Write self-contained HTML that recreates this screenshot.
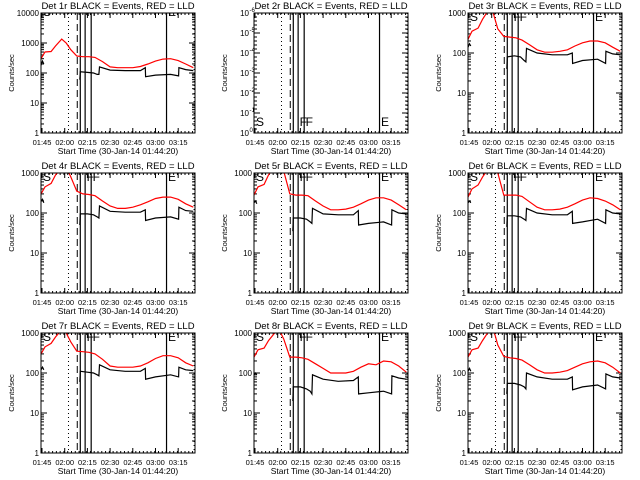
<!DOCTYPE html>
<html><head><meta charset="utf-8"><style>
html,body{margin:0;padding:0;background:#fff;width:640px;height:480px;overflow:hidden}
svg{display:block}
text{font-family:"Liberation Sans",sans-serif;fill:#000}
</style></head><body>
<svg id="chart" width="640" height="480" viewBox="0 0 640 480" xmlns="http://www.w3.org/2000/svg"></svg>
<script>
// time knots in minutes after 01:45
const redTimes = [-0.7,2,6,9,13,16,19,23,27,31,35,40,45,50,55,60,65,70,75,80,85,90,95,100];
const blackTimes = [-0.7,0.3,1.2,2,25,25.3,30,34,36.5,37.6,38,45,55,65,68.3,68.5,75,85,90.3,90.5,95,100];
const red1 = [300,500,520,800,1350,1000,600,370,350,350,330,240,160,150,150,150,165,200,250,290,300,260,200,150];
const black1 = [180,250,200,null,60,110,105,100,90,90,160,125,120,120,150,75,85,90,80,150,130,120];
const red3 = [220,350,420,700,1200,1000,400,260,250,240,210,160,120,105,105,110,120,150,180,200,200,180,140,110];
const black3 = [140,170,150,null,40,80,85,80,65,60,130,100,90,90,100,55,65,70,55,110,95,90];
const red4 = [300,450,550,900,1300,1400,800,350,300,290,270,200,150,130,130,140,160,190,230,250,250,220,170,140];
const black4 = [200,220,180,null,50,95,95,90,80,75,150,110,105,105,120,65,75,80,70,140,115,110];
const red5 = [280,450,520,900,1400,1500,1100,300,280,280,270,200,150,120,120,125,140,170,210,240,240,210,160,120];
const black5 = [180,200,170,null,35,75,75,70,60,55,130,95,90,90,115,50,55,60,50,120,100,95];
const red6 = [250,400,500,800,1300,1400,1000,280,280,280,260,190,140,120,120,125,140,170,210,240,230,200,160,120];
const black6 = [180,200,180,null,45,85,85,80,70,65,130,100,90,90,110,55,60,70,55,120,100,95];
const red7 = [300,450,550,800,1200,1000,600,350,340,330,300,220,150,140,140,140,150,180,230,270,270,240,180,150];
const black7 = [120,140,120,null,60,110,105,100,90,85,160,120,110,110,130,70,80,90,80,140,120,115];
const red8 = [250,380,420,650,1000,1200,700,250,250,240,220,170,130,100,100,100,110,140,170,160,200,190,150,105];
const black8 = [90,100,90,null,20,45,45,40,35,30,90,70,62,65,80,30,32,35,30,85,75,70];
const red9 = [250,380,420,650,1100,1300,500,260,240,230,210,160,120,100,100,105,115,140,170,190,200,180,140,100];
const black9 = [110,130,110,null,30,55,55,50,45,40,100,80,70,70,80,38,45,50,40,95,80,75];
const xTickLabels = ["01:45","02:00","02:15","02:30","02:45","03:00","03:15"];
const xTickMinutes = [0,15,30,45,60,75,90];
const dottedTimes = [17.5,100.5];
const dashedTimes = [23.3];
const solidTimes = [25.3,28.5,32.5,82.3];
const letterTimes = [0,28.8,32.8,82.6];
const letterLabels = ["S","F","F","E"];

const panels = [
 {n:1,red:red1,black:black1,dec:4},
 {n:2,red:null,black:null,dec:6},
 {n:3,red:red3,black:black3,dec:3},
 {n:4,red:red4,black:black4,dec:3},
 {n:5,red:red5,black:black5,dec:3},
 {n:6,red:red6,black:black6,dec:3},
 {n:7,red:red7,black:black7,dec:3},
 {n:8,red:red8,black:black8,dec:3},
 {n:9,red:red9,black:black9,dec:3}
];
const NS="http://www.w3.org/2000/svg";
const svg=document.getElementById('chart');
function mk(tag,attrs,parent){const e=document.createElementNS(NS,tag);for(const k in attrs)e.setAttribute(k,attrs[k]);parent.appendChild(e);return e;}
const L=41,R=195,T=13,B=133;
function xs(m){return L+(m+0.667)*1.513;}

panels.forEach((p,i)=>{
 const ox=[0,213,427][i%3], oy=[0,160,320][Math.floor(i/3)];
 const g=mk('g',{transform:`translate(${ox},${oy})`},svg);
 
 
 const ys = v => B-(Math.log10(v))*(B-T)/p.dec;
 const ysExp = e => B-(e)*(B-T)/6;
 const cid='clip'+p.n;
 const cp=mk('clipPath',{id:cid},g); mk('rect',{x:L,y:T,width:R-L,height:B-T},cp);
 const title=mk('text',{x:118,y:9,'text-anchor':'middle','font-size':'9.5'},g);
 title.textContent=`Det ${p.n}r BLACK = Events, RED = LLD`;
 
 
 const xt=mk('text',{x:118,y:154,'text-anchor':'middle','font-size':'8.5'},g);
 xt.textContent='Start Time (30-Jan-14 01:44:20)';
 
 
 const yt=mk('text',{x:0,y:0,'text-anchor':'middle','font-size':'7.5',transform:'translate(14,73) rotate(-90)'},g);
 yt.textContent='Counts/sec';
 
 
 xTickMinutes.forEach((m,k)=>{
  const x=xs(m);
  mk('line',{x1:x,x2:x,y1:B,y2:B-5,stroke:'#000'},g);
  mk('line',{x1:x,x2:x,y1:T,y2:T+5,stroke:'#000'},g);
  const t=mk('text',{x:x,y:145,'text-anchor':'middle','font-size':'7.5'},g);
  t.textContent=xTickLabels[k];
  
  
 });
 for(let m=-0.5;m<=101;m+=2.5){const x=xs(m);if(x<L||x>R)continue;
  mk('line',{x1:x,x2:x,y1:B,y2:B-2,stroke:'#000'},g);mk('line',{x1:x,x2:x,y1:T,y2:T+2,stroke:'#000'},g);}
 if(p.red){
  for(let d=0;d<=p.dec;d++){
   const y=ys(Math.pow(10,d));
   mk('line',{x1:L,x2:L+6,y1:y,y2:y,stroke:'#000'},g);
   mk('line',{x1:R,x2:R-6,y1:y,y2:y,stroke:'#000'},g);
   const t=mk('text',{x:39,y:y+3,'text-anchor':'end','font-size':'8'},g);
   t.textContent=String(Math.pow(10,d));
   
   
   if(d<p.dec)for(let k=2;k<10;k++){const yy=ys(k*Math.pow(10,d));
    mk('line',{x1:L,x2:L+3,y1:yy,y2:yy,stroke:'#000'},g);mk('line',{x1:R,x2:R-3,y1:yy,y2:yy,stroke:'#000'},g);}
  }
 } else {
  for(let e=0;e>=-6;e--){
   const y=ysExp(-e);
   mk('line',{x1:L,x2:L+6,y1:y,y2:y,stroke:'#000'},g);
   mk('line',{x1:R,x2:R-6,y1:y,y2:y,stroke:'#000'},g);
   const t=mk('text',{x:36,y:y+3,'text-anchor':'end','font-size':'8'},g);
   t.textContent='10';
   
   
   const s=mk('text',{x:36.5,y:y-1,'font-size':'6'},g);
   s.textContent=e===0?'0':String(e);
   
   
   if(e>-6)for(let k=0.2;k<0.99;k+=0.2){const yy=ysExp(-e+k);
    mk('line',{x1:L,x2:L+3,y1:yy,y2:yy,stroke:'#000'},g);mk('line',{x1:R,x2:R-3,y1:yy,y2:yy,stroke:'#000'},g);}
  }
 }
 const pg=mk('g',{'clip-path':`url(#${cid})`},g);
 dottedTimes.forEach(m=>{const l=mk('line',{x1:xs(m),x2:xs(m),y1:T,y2:B,stroke:'#000','stroke-dasharray':'1,3'},pg);
  });
 dashedTimes.forEach(m=>{const l=mk('line',{x1:xs(m),x2:xs(m),y1:T,y2:B,stroke:'#000','stroke-dasharray':'7,4'},pg);
  });
 solidTimes.forEach(m=>{const l=mk('line',{x1:xs(m),x2:xs(m),y1:T,y2:B,stroke:'#000','stroke-width':'1.2'},pg);
  });
 letterTimes.forEach((m,k)=>{
  const t=mk('text',{x:xs(m)+1,y:p.red?(p.n===1?16:21):126,'font-size':'12'},pg);
  t.textContent=letterLabels[k];
  
  
 });
 if(p.red){
  let d='';
  redTimes.forEach((m,k)=>{d+=(k?'L':'M')+xs(m).toFixed(1)+','+ys(p.red[k]).toFixed(1);});
  const rl=mk('path',{d:d,fill:'none',stroke:'#f00','stroke-width':'1.2'},pg);
  
  
  let db='',pen=false;
  blackTimes.forEach((m,k)=>{const v=p.black[k];if(v===null){pen=false;return;}
   db+=(pen?'L':'M')+xs(m).toFixed(1)+','+ys(v).toFixed(1);pen=true;});
  const bl=mk('path',{d:db,fill:'none',stroke:'#000','stroke-width':'1.2'},pg);
  
  
 }
 const fr=mk('rect',{x:L,y:T,width:R-L,height:B-T,fill:'none',stroke:'#000','stroke-width':'1'},g);
 
 
});
</script>
</body></html>
